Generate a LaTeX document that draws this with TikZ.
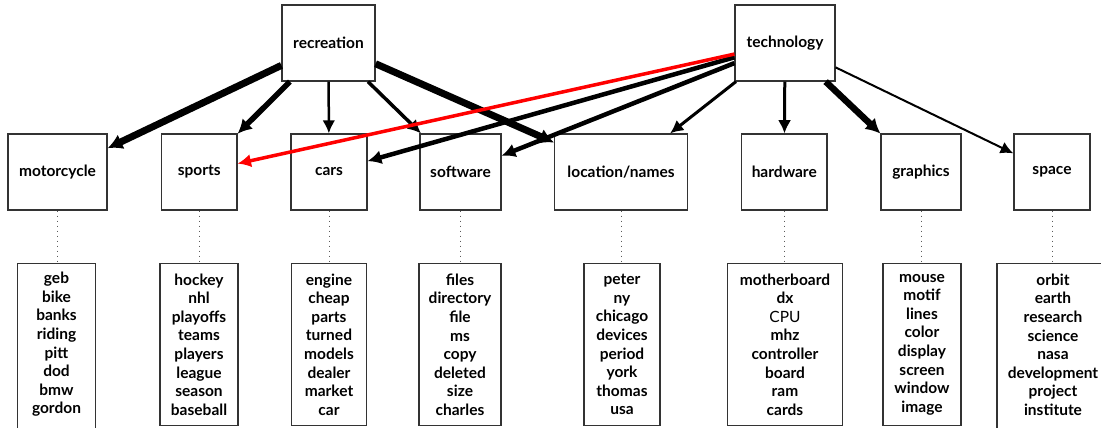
\documentclass[tikz,border=0pt]{standalone}
\usepackage{fontspec}
\setmainfont{Lato}
\usetikzlibrary{arrows.meta}
\begin{document}
\begin{tikzpicture}[x=1pt,y=-1pt,
  every node/.style={font=\fontsize{15.5}{18.6}\selectfont\bfseries},
  topic/.style={draw=black!80, line width=1.2pt, minimum height=76pt, inner xsep=2pt, inner ysep=2pt},
  wordlist/.style={draw=black!80, line width=1.2pt, align=center, anchor=north, minimum height=162pt, inner sep=2pt},
  link/.style={draw=black, -{Latex[length=12pt 0.4, width=11pt 0.7]}},
  hot/.style={link, draw=red, -{Latex[length=12pt 0.4, width=11pt 0.7, color=red]}},
  dotlink/.style={draw=black!65, line width=0.8pt, dash pattern=on 0.8pt off 4.2pt}
]
\clip (0,0) rectangle (1101,428);
% top topics
\node[topic, minimum width=93pt]  (rec)  at (328.5,43) {recreation};
\node[topic, minimum width=100pt] (tech) at (785,43)   {technology};
% middle topics
\node[topic, minimum width=99pt]   (moto) at (57.5,172)  {motorcycle};
\node[topic, minimum width=75.5pt] (spor) at (199.25,172) {sports};
\node[topic, minimum width=76pt]   (cars) at (329,172)   {cars};
\node[topic, minimum width=81pt]   (soft) at (460.5,172) {software};
\node[topic, minimum width=132.5pt](loca) at (621,172)   {location/names};
\node[topic, minimum width=85.5pt] (hard) at (784.25,172) {hardware};
\node[topic, minimum width=80pt]   (grap) at (921,172)   {graphics};
\node[topic, minimum width=76pt]   (spac) at (1052,172)  {space};
% word lists
\node[wordlist, minimum width=78pt, minimum height=170pt, text depth=11pt] (Lmoto) at (56.5,263) {geb\\bike\\banks\\riding\\pitt\\dod\\bmw\\gordon};
\node[wordlist, minimum width=78pt] (Lspor) at (199,263) {hockey\\nhl\\playoffs\\teams\\players\\league\\season\\baseball};
\node[wordlist, minimum width=75.6pt] (Lcars) at (329,263) {engine\\cheap\\parts\\turned\\models\\dealer\\market\\car};
\node[wordlist, minimum width=82pt] (Lsoft) at (460,263) {files\\directory\\file\\ms\\copy\\deleted\\size\\charles};
\node[wordlist, minimum width=76pt] (Lloca) at (622,263) {peter\\ny\\chicago\\devices\\period\\york\\thomas\\usa};
\node[wordlist, minimum width=115pt] (Lhard) at (785,263) {motherboard\\dx\\{\mdseries CPU}\\mhz\\controller\\board\\ram\\cards};
\node[wordlist, minimum width=78pt] (Lgrap) at (922,263) {mouse\\motif\\lines\\color\\display\\screen\\window\\image};
\node[wordlist, minimum width=112pt, minimum height=170pt, text depth=8pt] (Lspac) at (1053,263) {orbit\\earth\\research\\science\\nasa\\development\\project\\institute};
% dotted links
\foreach \a/\b in {moto/Lmoto, spor/Lspor, cars/Lcars, soft/Lsoft, loca/Lloca, hard/Lhard, grap/Lgrap, spac/Lspac}
  \draw[dotlink] (\a.south) -- (\a.south |- \b.north);
% recreation edges
\draw[link, line width=7pt]   (rec) -- (moto);
\draw[link, line width=5.5pt] (rec) -- (spor);
\draw[link, line width=2.5pt] (rec) -- (cars);
\draw[link, line width=3.5pt] (rec) -- (soft);
\draw[link, line width=7pt]   (rec) -- (loca);
% technology edges
\draw[link, line width=4.5pt] (tech) -- (cars);
\draw[link, line width=4.5pt] (tech) -- (soft);
\draw[link, line width=3pt]   (tech) -- (loca);
\draw[link, line width=3pt]   (tech) -- (hard);
\draw[link, line width=6.5pt] (tech) -- (grap);
\draw[link, line width=2pt]   (tech) -- (spac);
\draw[hot, line width=3.5pt]  (tech) -- (spor);
\end{tikzpicture}
\end{document}
